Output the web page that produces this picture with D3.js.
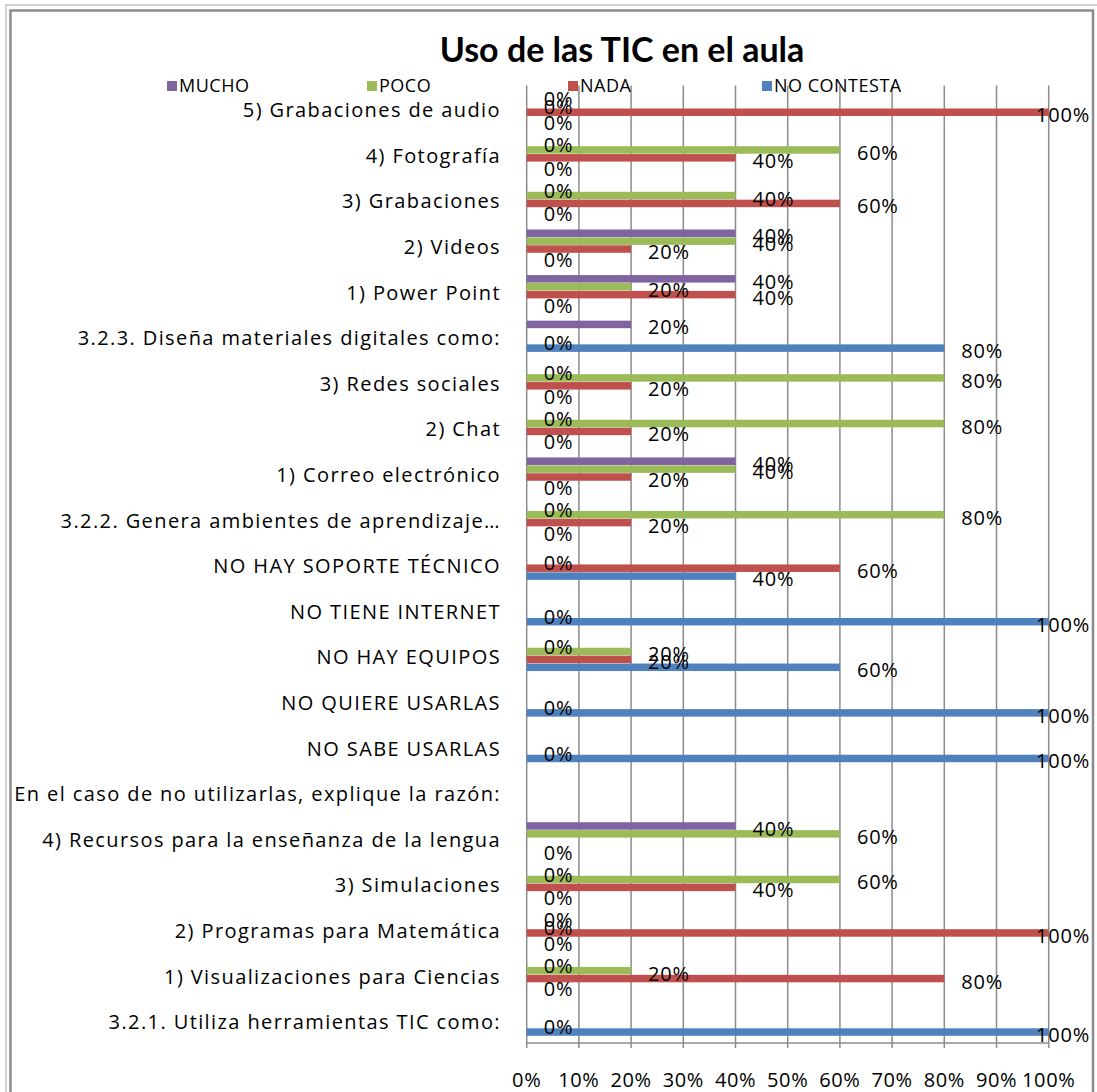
<!DOCTYPE html>
<html>
<head>
<meta charset="utf-8">
<script src="https://cdn.jsdelivr.net/npm/d3@7"></script>
<style>
  body { margin: 0; background: #fff; }
  text { font-family: "Open Sans", sans-serif; fill: #000; }
</style>
</head>
<body>
<div id="chart"></div>
<script>
// categories as shown, top to bottom
let categories = [
  "5) Grabaciones de audio",
  "4) Fotografía",
  "3) Grabaciones",
  "2) Videos",
  "1) Power Point",
  "3.2.3. Diseña materiales digitales como:",
  "3) Redes sociales",
  "2) Chat",
  "1) Correo electrónico",
  "3.2.2. Genera ambientes de aprendizaje…",
  "NO HAY SOPORTE TÉCNICO",
  "NO TIENE INTERNET",
  "NO HAY EQUIPOS",
  "NO QUIERE USARLAS",
  "NO SABE USARLAS",
  "En el caso de no utilizarlas, explique la razón:",
  "4) Recursos para la enseñanza de la lengua",
  "3) Simulaciones",
  "2) Programas para Matemática",
  "1) Visualizaciones para Ciencias",
  "3.2.1. Utiliza herramientas TIC como:"
];

// percentages, null = empty cell (no bar, no label)
let mucho      = [0, 0, 0, 40, 40, 20, 0, 0, 40, 0, null, null, 0, null, null, null, 40, 0, 0, 0, null];
let poco       = [0, 60, 40, 40, 20, null, 80, 80, 40, 80, 0, null, 20, null, null, null, 60, 60, 0, 20, null];
let nada       = [100, 40, 60, 20, 40, 0, 20, 20, 20, 20, 60, 0, 20, 0, 0, null, null, 40, 100, 80, 0];
let noContesta = [0, 0, 0, 0, 0, 80, 0, 0, 0, 0, 40, 100, 60, 100, 100, null, 0, 0, 0, 0, 100];

let seriesNames = ["MUCHO", "POCO", "NADA", "NO CONTESTA"];
let seriesColors = ["#8064A2", "#9BBB59", "#C0504D", "#4F81BD"];
let ticks = [0, 10, 20, 30, 40, 50, 60, 70, 80, 90, 100];

let width = 1097, height = 1092;
let plot = {left: 526.7, right: 1048.7, top: 85.5, bottom: 1043};

let svg = d3.select("#chart")
.append("svg")
.attr("width", width)
.attr("height", height);

// chart area frame (double line, open at the bottom)
svg.append("path")
.attr("d", "M6,1100V5H1097")
.attr("fill", "none")
.attr("stroke", "#d0d0d0")
.attr("stroke-width", 2);
svg.append("path")
.attr("d", "M10.5,1100V10.5H1093V1100")
.attr("fill", "none")
.attr("stroke", "#8c8c8c")
.attr("stroke-width", 2.5);

let x = d3.scaleLinear()
.domain([0, 100])
.range([plot.left, plot.right]);

let y = d3.scaleBand()
.domain(categories)
.range([plot.top, plot.bottom])
.paddingInner(0.307)
.paddingOuter(0.1535);

let ySub = d3.scaleBand()
.domain(seriesNames)
.range([0, y.bandwidth()]);

// vertical gridlines + ticks below the axis
svg.append("g")
.selectAll("line")
.data(ticks)
.enter().append("line")
.attr("x1", function(d) { return x(d); })
.attr("x2", function(d) { return x(d); })
.attr("y1", plot.top)
.attr("y2", plot.bottom + 5)
.attr("stroke", "#8c8c8c")
.attr("stroke-width", 1.5);

svg.append("line")
.attr("x1", plot.left)
.attr("x2", plot.right)
.attr("y1", plot.bottom)
.attr("y2", plot.bottom)
.attr("stroke", "#8c8c8c")
.attr("stroke-width", 1.5);

svg.append("g")
.selectAll("text")
.data(ticks)
.enter().append("text")
.attr("x", function(d) { return x(d); })
.attr("y", 1080)
.attr("dy", "0.35em")
.attr("text-anchor", "middle")
.style("font-size", "20px")
.style("letter-spacing", "0.6px")
.text(function(d) { return d + "%"; });

// category labels
svg.append("g")
.selectAll("text")
.data(categories)
.enter().append("text")
.attr("x", 501)
.attr("y", function(d) { return y(d) + y.bandwidth() / 2 + 2; })
.attr("dy", "0.35em")
.attr("text-anchor", "end")
.style("font-size", "20px")
.style("letter-spacing", "1.4px")
.text(function(d) { return d; });

let allSeries = [mucho, poco, nada, noContesta];
let cells = [];
allSeries.forEach(function(vals, si) {
  vals.forEach(function(v, ci) {
    if (v !== null) cells.push({cat: categories[ci], s: seriesNames[si], color: seriesColors[si], value: v});
  });
});

svg.append("g")
.selectAll("rect")
.data(cells.filter(function(d) { return d.value > 0; }))
.enter().append("rect")
.attr("x", x(0))
.attr("y", function(d) { return y(d.cat) + ySub(d.s) + 0.2; })
.attr("width", function(d) { return x(d.value) - x(0); })
.attr("height", ySub.bandwidth() - 0.4)
.attr("fill", function(d) { return d.color; });

// data labels, outside end, kept inside the chart area
svg.append("g")
.selectAll("text")
.data(cells)
.enter().append("text")
.attr("x", function(d) { return x(d.value) + 17; })
.attr("y", function(d) { return y(d.cat) + ySub(d.s) + ySub.bandwidth() / 2 + 3; })
.attr("dy", "0.35em")
.style("font-size", "20px")
.style("letter-spacing", "0.8px")
.text(function(d) { return d.value + "%"; })
.each(function() {
  let el = d3.select(this);
  let w = this.getComputedTextLength();
  if (+el.attr("x") + w > 1090) el.attr("x", 1090 - w);
});

// legend
let legendX = [167, 367, 568, 762];
let legend = svg.append("g")
.selectAll("g")
.data(seriesNames)
.enter().append("g")
.attr("transform", function(d, i) { return "translate(" + legendX[i] + ",86)"; });

legend.append("rect")
.attr("x", 0)
.attr("y", -5)
.attr("width", 10)
.attr("height", 10)
.attr("fill", function(d, i) { return seriesColors[i]; });

legend.append("text")
.attr("x", 12)
.attr("y", 0)
.attr("dy", "0.35em")
.style("font-size", "18px")
.style("letter-spacing", "0.5px")
.text(function(d) { return d; });

svg.append("text")
.attr("x", 622)
.attr("y", 50)
.attr("dy", "0.35em")
.attr("text-anchor", "middle")
.style("font-family", "Lato, sans-serif")
.style("font-weight", "bold")
.style("font-size", "34px")
.text("Uso de las TIC en el aula");
</script>
</body>
</html>
